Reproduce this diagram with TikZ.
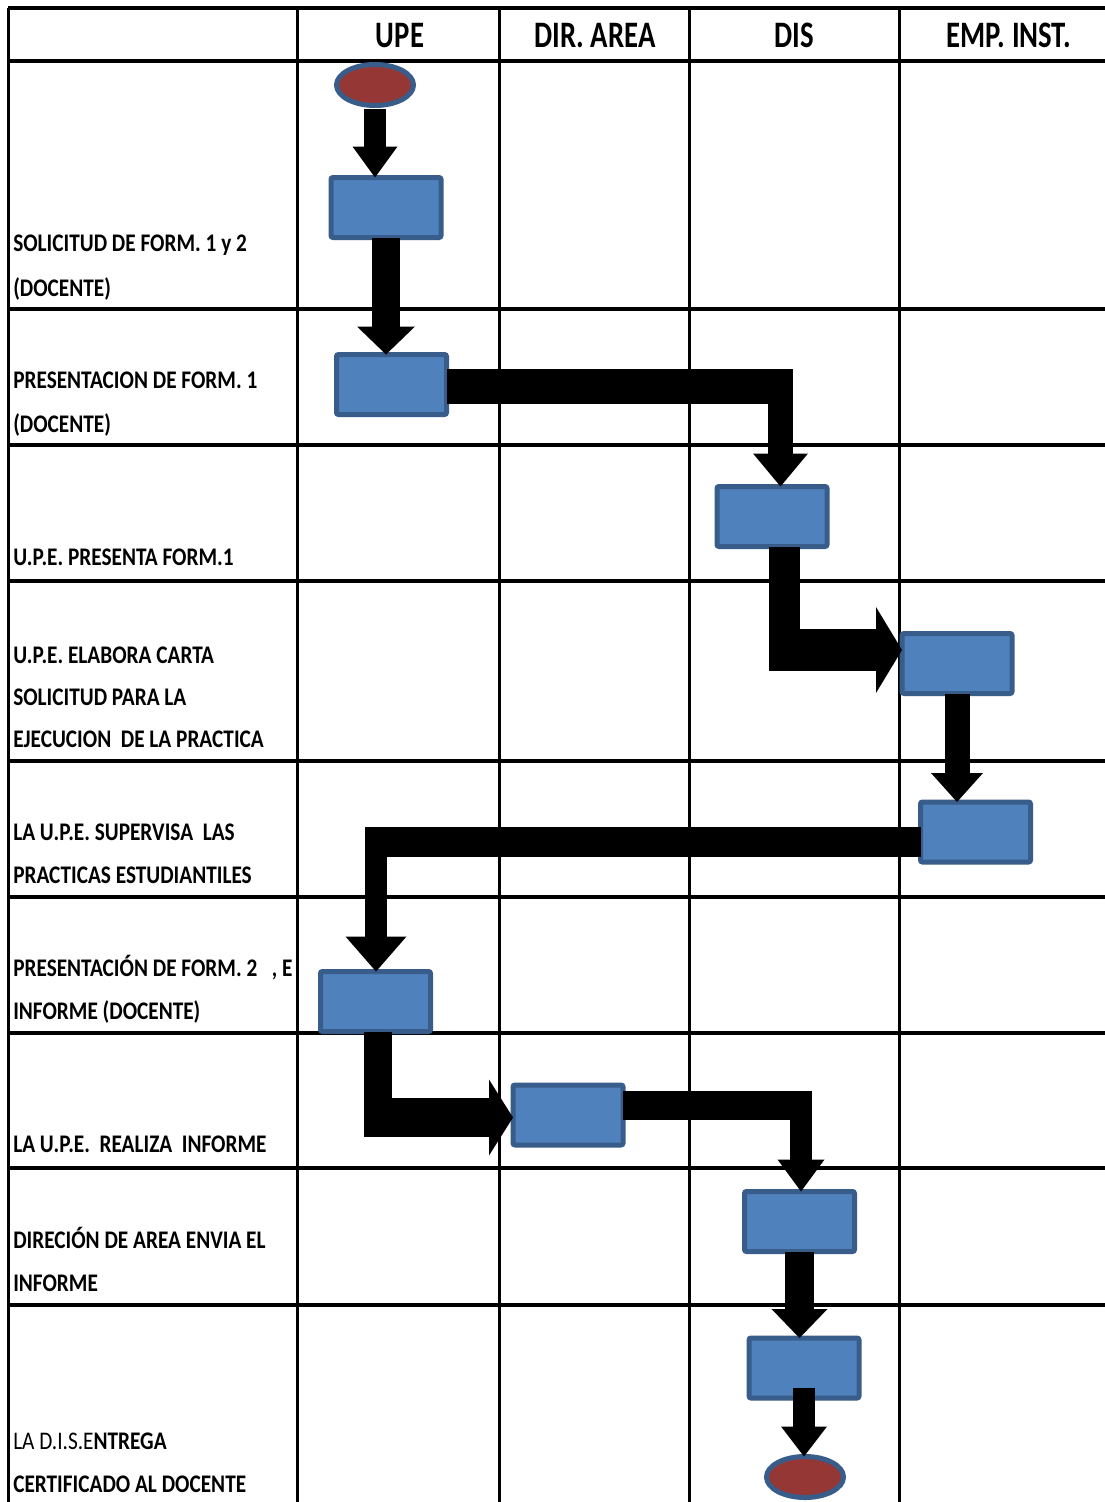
\documentclass[tikz,border=0pt]{standalone}
\usepackage{fontspec}
\setmainfont{Carlito}
\newfontfamily\lblfam[FakeStretch=0.84]{Carlito}
\newfontfamily\hdrfam[FakeStretch=0.77]{Carlito}
\usetikzlibrary{arrows.meta,calc,shapes.geometric}
\definecolor{boxfill}{RGB}{79,129,189}
\definecolor{boxline}{RGB}{56,93,138}
\definecolor{ovalfill}{RGB}{149,55,53}
\begin{document}
\begin{tikzpicture}[x=0.75pt,y=-0.75pt,
  hline/.style={line width=3pt,black},
  vline/.style={line width=2.25pt,black},
  proc/.style={rectangle,draw=boxline,fill=boxfill,line width=3.75pt,rounded corners=1.5pt,
    minimum width=82.5pt,minimum height=45pt,inner sep=0pt,outer sep=0pt},
  term/.style={ellipse,draw=boxline,fill=ovalfill,line width=3.75pt,
    minimum width=57.75pt,minimum height=30.75pt,inner sep=0pt,outer sep=0pt},
  bar/.style={draw=black,line width=#1},
  tip/.style 2 args={-{Triangle[width=#1,length=#2,line width=0pt]}},
  lbl/.style={anchor=base west,inner sep=0pt,font=\lblfam\bfseries\fontsize{19}{22}\selectfont},
  lblr/.style={anchor=base west,inner sep=0pt,font=\lblfam\fontsize{19}{22}\selectfont},
  hdr/.style={anchor=base,inner sep=0pt,font=\hdrfam\bfseries\fontsize{28}{32}\selectfont}]
\useasboundingbox (0,0) rectangle (1105,1502);
\fill[white] (0,0) rectangle (1105,1502);

% grid
\foreach \yy in {8,309,445,581,761,897,1033,1168,1305}
  \draw[hline] (8,\yy) -- (1105,\yy);
\draw[hline,line width=3.6pt] (8,61) -- (1105,61);
\foreach \xx in {8,297,499,689,899}
  \draw[vline] (\xx,8) -- (\xx,1502);

% headers
\node[hdr] (h1) at (400,48) {UPE};
\node[hdr] (h2) at (595,48) {DIR. AREA};
\node[hdr] (h3) at (794,48) {DIS};
\node[hdr] (h4) at (1009,48) {EMP. INST.};

% row labels
\node[lbl] (l1a) at (13,251) {SOLICITUD DE FORM. 1 y 2};
\node[lbl] (l1b) at (13,296) {(DOCENTE)};
\node[lbl] (l2a) at (13,388) {PRESENTACION DE FORM. 1};
\node[lbl] (l2b) at (13,432) {(DOCENTE)};
\node[lbl] (l3)  at (13,565) {U.P.E. PRESENTA FORM.1};
\node[lbl] (l4a) at (13,663) {U.P.E. ELABORA CARTA};
\node[lbl] (l4b) at (13,705) {SOLICITUD PARA LA};
\node[lbl] (l4c) at (13,747) {EJECUCION~ DE LA PRACTICA};
\node[lbl] (l5a) at (13,840) {LA U.P.E. SUPERVISA~ LAS};
\node[lbl] (l5b) at (13,883) {PRACTICAS ESTUDIANTILES};
\node[lbl] (l6a) at (13,976) {PRESENTACIÓN DE FORM. 2~~~, E};
\node[lbl] (l6b) at (13,1019) {INFORME (DOCENTE)};
\node[lbl] (l7)  at (13,1152) {LA U.P.E.~ REALIZA~ INFORME};
\node[lbl] (l8a) at (13,1248) {DIRECIÓN DE AREA ENVIA EL};
\node[lbl] (l8b) at (13,1291) {INFORME};
\node[lblr] (l9a) at (13,1449) {LA D.I.S.E{\bfseries NTREGA}};
\node[lbl] (l9b) at (13,1492) {CERTIFICADO AL DOCENTE};

% shapes
\node[term] (S) at (375,85) {};
\node[proc] (b1) at (386,207.5) {};
\node[proc] (b2) at (391.5,384.5) {};
\node[proc] (b3) at (772,516.5) {};
\node[proc] (b4) at (957,663.5) {};
\node[proc] (b5) at (975.5,832) {};
\node[proc] (b6) at (375.5,1001.5) {};
\node[proc] (b7) at (568,1115) {};
\node[proc] (b8) at (799.5,1221.5) {};
\node[proc] (b9) at (804,1368) {};
\node[term] (E) at (805,1477) {};

% corner points
\coordinate (c3) at (780.5,386.5);
\coordinate (c4) at (784.5,650);
\coordinate (c6) at (376,842);
\coordinate (c7) at (378,1117.5);
\coordinate (c8) at (801,1105.5);

% arrows
\draw[bar=16.5pt,tip={33.75pt}{23.25pt}] ($(S.south)+(0,3)$) -- (S.south |- b1.north);
\draw[bar=21pt,tip={43.5pt}{21pt}] (b1.south) -- (b1.south |- b2.north);

\draw[bar=26.25pt,shorten >=-9.6pt] (b2.east |- c3) -- (c3);
\draw[bar=19.2pt,shorten <=-13.1pt,tip={41.25pt}{24.75pt}] (c3) -- (c3 |- b3.north);

\draw[bar=23.25pt,shorten >=-15.75pt] (b3.south -| c4) -- (c4);
\draw[bar=31.5pt,shorten <=-11.6pt,tip={64.5pt}{19.5pt}] (c4) -- (c4 -| b4.west);

\draw[bar=18.75pt,tip={39pt}{21.75pt}] (b4.south) -- (b4.south |- b5.north);

\draw[bar=22.5pt,shorten >=-8.25pt] (b5.west |- c6) -- (c6);
\draw[bar=16.5pt,shorten <=-11.25pt,tip={45.75pt}{26.25pt}] (c6) -- (c6 |- b6.north);

\draw[bar=21pt,shorten >=-14.6pt] (b6.south -| c7) -- (c7);
\draw[bar=29.25pt,shorten <=-10.5pt,tip={57pt}{18pt}] (c7) -- (c7 -| b7.west);

\draw[bar=21.75pt,shorten >=-8.25pt] (b7.east |- c8) -- (c8);
\draw[bar=16.5pt,shorten <=-10.9pt,tip={35.25pt}{24pt}] (c8) -- (c8 |- b8.north);

\draw[bar=21.75pt,tip={42pt}{21.75pt}] (b8.south) -- (b8.south |- b9.north);
\draw[bar=16.5pt,tip={34.5pt}{22.5pt}] ($(b9.south)+(0,-10)$) -- (b9.south |- E.north);
\end{tikzpicture}
\end{document}
